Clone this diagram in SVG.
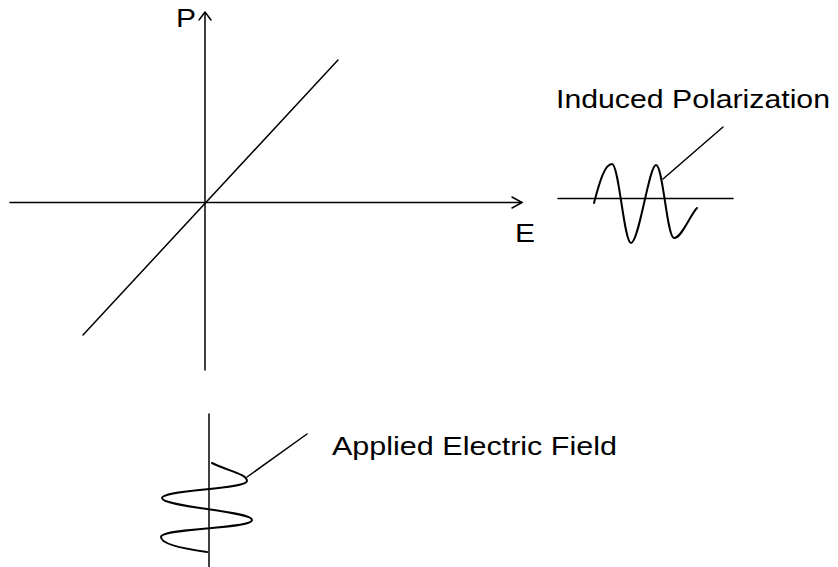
<svg xmlns="http://www.w3.org/2000/svg" width="838" height="567" viewBox="0 0 838 567">
<style>
.ln{fill:none;stroke:#000;stroke-width:1.5;stroke-linecap:round;stroke-linejoin:round}
.wv{fill:none;stroke:#000;stroke-width:2;stroke-linecap:round}
.t{font-family:"Liberation Sans",Arial,sans-serif;font-size:25.5px;fill:#000}
</style>
<rect width="838" height="567" fill="#fff"/>
<g id="connectors">
<line class="ln" x1="205" y1="13" x2="205" y2="370"/>
<polyline class="ln" points="199,20 205,12 211,20"/>
<line class="ln" x1="10" y1="202.5" x2="522" y2="202.5"/>
<polyline class="ln" points="512,197 522,202.5 512,208"/>
<line class="ln" x1="83" y1="335" x2="338" y2="60"/>
<line class="ln" x1="663" y1="179" x2="723" y2="127"/>
<line class="ln" x1="247" y1="477" x2="307" y2="434"/>
</g>
<g id="axis-labels">
<text class="t" x="176" y="27" textLength="20" lengthAdjust="spacingAndGlyphs">P</text>
<text class="t" x="515" y="242" textLength="20" lengthAdjust="spacingAndGlyphs">E</text>
</g>
<g id="induced-polarization">
<line class="ln" x1="558" y1="198.5" x2="733" y2="198.5"/>
<path class="wv" d="M594,203 C600,180 605,164 612,164 C619,164 624,243 631,243 C639,243 649,165 656,165 C663,165 667,238 674,238 C682,238 690,215 697,208"/>
<text class="t" x="556" y="108" textLength="274" lengthAdjust="spacingAndGlyphs">Induced Polarization</text>
</g>
<g id="applied-field">
<line class="ln" x1="209" y1="414" x2="209" y2="567"/>
<path class="wv" d="M212,463 C228,471 247,474 247,481 C247,489 162,490 162,498 C162,507 252,511 252,520 C252,529 161,528 161,537 C161,544 185,549 207,552"/>
<text class="t" x="332" y="455" textLength="285" lengthAdjust="spacingAndGlyphs">Applied Electric Field</text>
</g>
</svg>
